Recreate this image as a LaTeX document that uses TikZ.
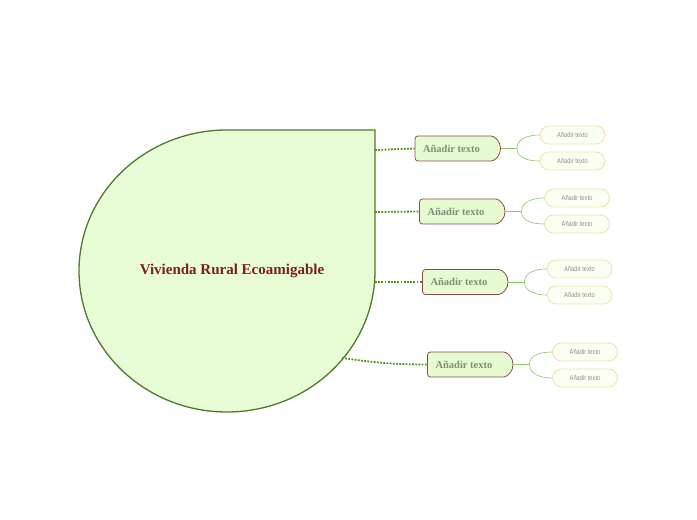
\documentclass[tikz,border=0pt]{standalone}
\usepackage{fontspec}
\setmainfont{Liberation Serif}
\newfontfamily\subfont[FakeStretch=0.82]{Liberation Sans}
\usetikzlibrary{shapes.misc,calc}
\definecolor{shapefill}{HTML}{E8FCD6}
\definecolor{shapeline}{HTML}{4F7A2E}
\definecolor{titlecol}{HTML}{7B1F1F}
\definecolor{boxfill}{HTML}{E6FBD2}
\definecolor{boxline}{HTML}{8A4A48}
\definecolor{boxtext}{HTML}{7F8F73}
\definecolor{subline}{HTML}{F0E0B0}
\definecolor{subfill}{HTML}{FBFFF2}
\definecolor{subtext}{HTML}{8C8C8C}
\definecolor{dotcol}{HTML}{4E8F1E}
\definecolor{branchcol}{HTML}{8CC46A}
\tikzset{
  mainbox/.style={rounded rectangle, rounded rectangle west arc=none, rounded corners=3pt,
    draw=boxline, fill=boxfill,
    line width=0.8pt, minimum width=85pt, minimum height=25pt, inner sep=0pt,
    text=boxtext, font=\fontsize{10.5}{12}\selectfont\bfseries},
  subbox/.style={rounded rectangle, draw=subline, fill=subfill, line width=0.8pt,
    minimum width=65pt, minimum height=18pt, inner sep=0pt,
    text=subtext, font=\subfont\fontsize{7}{8}\selectfont},
  dotconn/.style={draw=dotcol, line width=1.8pt, dash pattern=on 1.8pt off 1.4pt},
  branch/.style={draw=branchcol, line width=0.6pt},
}
\newcommand{\boxlabel}{\makebox[85pt][l]{\hspace{8pt}Añadir texto}}
\begin{document}
\begin{tikzpicture}[x=1pt,y=1pt]
\useasboundingbox (0,0) rectangle (697,520);
% central teardrop
\draw[fill=shapefill, draw=shapeline, line width=1.3pt]
  (227,390) -- (375,390) -- (375,249)
  arc[start angle=0, end angle=-270, x radius=148, y radius=141] -- cycle;
\node[text=titlecol, font=\fontsize{15}{17}\selectfont\bfseries] (title) at (232,249) {Vivienda Rural Ecoamigable};
\coordinate (c1) at (375,370);
\coordinate (c2) at (375,308);
\coordinate (c3) at (375,238);
\coordinate (c4) at (342,162);
% main boxes
\node[mainbox] (b1) at (457.5,371.5) {\boxlabel};
\node[mainbox] (b2) at (462,308.5) {\boxlabel};
\node[mainbox] (b3) at (465,238) {\boxlabel};
\node[mainbox] (b4) at (470,155.5) {\boxlabel};
% sub boxes
\node[subbox] (s1a) at (572.5,385) {Añadir texto};
\node[subbox] (s1b) at (572.5,359) {Añadir texto};
\node[subbox] (s2a) at (577,322) {Añadir texto};
\node[subbox] (s2b) at (577,296) {Añadir texto};
\node[subbox] (s3a) at (579.5,251) {Añadir texto};
\node[subbox] (s3b) at (579.5,225) {Añadir texto};
\node[subbox] (s4a) at (585,168) {Añadir texto};
\node[subbox] (s4b) at (585,142) {Añadir texto};
% dotted connectors
\draw[dotconn] (c1) -- (b1.west);
\draw[dotconn] (c2) -- (b2.west);
\draw[dotconn] (c3) -- (b3.west);
\draw[dotconn] (c4) to[out=-8,in=180] (b4.west);
% branches
\foreach \b in {1,2,3,4}{
  \coordinate (j\b) at ($(b\b.east)+(16,0)$);
  \draw[branch] (b\b.east) -- (j\b);
  \draw[branch] (j\b) to[out=90,in=180] (s\b a.west);
  \draw[branch] (j\b) to[out=-90,in=180] (s\b b.west);
}
\end{tikzpicture}
\end{document}
